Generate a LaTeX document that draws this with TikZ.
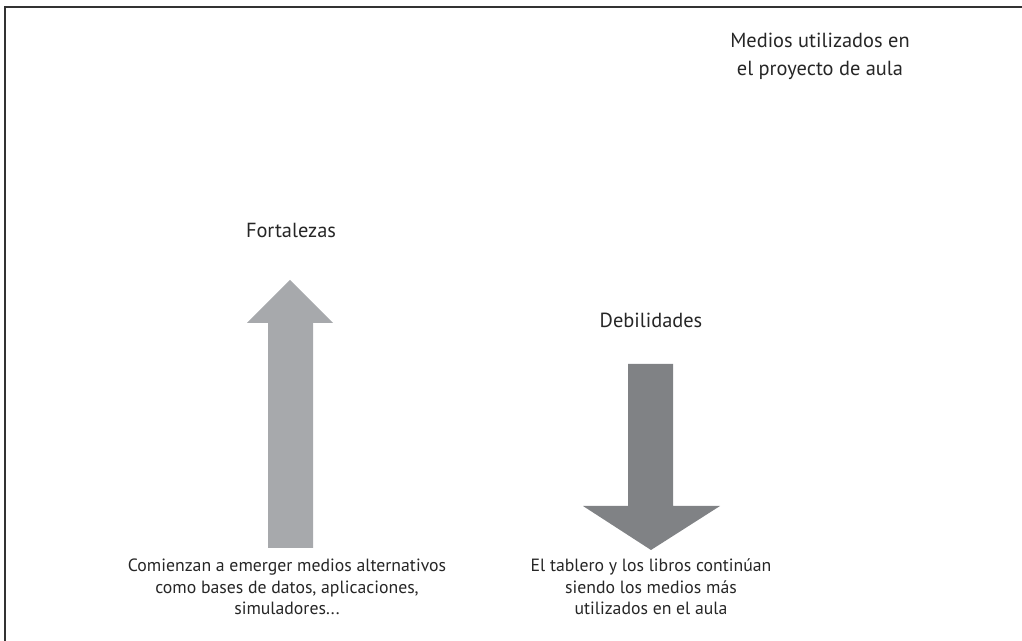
\documentclass[tikz,border=0pt]{standalone}
\usepackage{fontspec}
\setmainfont{PT Sans}
\begin{document}
\begin{tikzpicture}[x=0.75pt,y=-0.75pt,
  lbl/.style={font=\fontsize{15.3}{21}\selectfont, text=black!85, align=center, inner sep=0pt},
  small/.style={font=\fontsize{13.3}{16.2}\selectfont, text=black!85, align=center, inner sep=0pt},
  frame/.style={draw=black!80, line width=1.1pt}]
\useasboundingbox (0,0) rectangle (1022,641);
\coordinate (tl) at (5,7);
\coordinate (tr) at (1022,7);
\coordinate (bl) at (5,641);
\draw[frame] (tr) -- (tl) -- (bl);
\node[lbl] (medios) at (820,56) {Medios utilizados en\\el proyecto de aula};
\node[lbl] (fort) at (291,230) {Fortalezas};
\node[lbl] (deb) at (651,320) {Debilidades};
\fill[fill={rgb,255:red,167;green,169;blue,172}] (268,548) -- (268,323) -- (247,323) -- (290,280) -- (333,323) -- (313,323) -- (313,548) -- cycle;
\fill[fill={rgb,255:red,128;green,130;blue,133}] (628,364) -- (628,506) -- (583,506) -- (651,550) -- (720,506) -- (673,506) -- (673,364) -- cycle;
\node[small] (ltext) at (287,587) {Comienzan a emerger medios alternativos\\como bases de datos, aplicaciones,\\simuladores...};
\node[small] (rtext) at (651,587) {El tablero y los libros continúan\\siendo los medios más\\utilizados en el aula};
\end{tikzpicture}
\end{document}
